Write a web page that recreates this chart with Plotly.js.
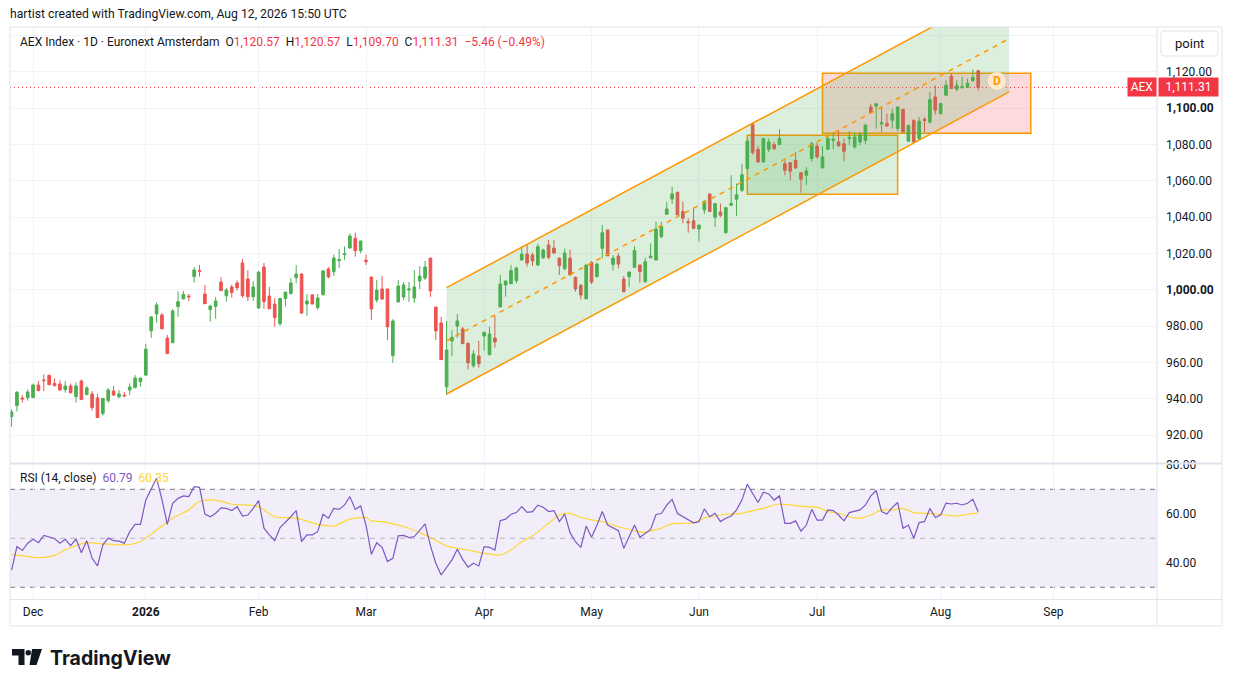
<!DOCTYPE html>
<html>
<head>
<meta charset="utf-8">
<title>AEX Index 1D</title>
<script src="https://cdn.plot.ly/plotly-3.0.1.min.js"></script>
<style>
  html, body { margin: 0; padding: 0; background: #ffffff; }
  #chart { width: 1233px; height: 687px; }
</style>
</head>
<body>
<div id="chart"></div>
<script>
// trading calendar (Euronext closed days in the window)
var firstDay = '2025-11-25';
var lastDay = '2026-08-12';
var holidays = ['2025-12-25', '2025-12-26', '2026-01-01', '2026-04-03', '2026-04-06', '2026-05-01'];

// daily OHLC, one value per trading day from firstDay to lastDay
var open = [
  930.1, 936.2, 940.4, 940.6,
  940.6, 947.5, 950.3, 952.8, 948.4, 948.1, 945.0, 947.0, 941.1, 949.7,
  942.2, 942.6, 940.4, 931.8, 938.9, 944.2, 941.1, 942.0, 944.8, 946.0, 949.4,
  953.0, 977.4, 986.6, 986.1, 973.4, 970.8, 990.7, 994.9, 996.5, 1007.2, 1010.5,
  997.6, 989.0, 990.7, 1004.2, 996.7, 1001.5, 1003.7, 1014.7, 1005.9, 996.1,
  989.9, 1012.5, 996.5, 992.1, 981.3, 995.2, 997.8, 1006.6, 1008.6, 992.1,
  997.1, 990.1, 997.3, 1011.4, 1009.9, 1016.0, 1019.3, 1022.9, 1028.3, 1021.5,
  1016.2, 1007.0, 994.3, 1000.4, 1000.4, 963.7, 993.2, 996.0, 999.8, 995.4,
  1004.8, 1006.4, 1017.4, 990.5, 981.7, 946.6, 971.8, 980.0, 978.4, 970.5,
  958.2, 963.5, 974.5, 964.2, 973.4, 990.5, 1002.6, 1003.3,
  1005.0, 1016.3, 1019.6, 1019.1, 1013.6, 1017.6, 1024.6, 1022.9, 1017.4, 1011.6,
  1017.4, 1006.8, 1002.4, 994.9,
  1014.9, 1007.2, 1022.8, 1032.9, 1013.9, 1018.5, 1005.9, 1007.2, 1012.3, 1013.6,
  1004.4, 1017.6, 1016.3, 1029.2, 1041.5, 1049.9, 1053.6, 1043.0, 1037.4, 1038.0,
  1033.4, 1043.9, 1052.7, 1039.9, 1042.8, 1031.4, 1046.5, 1049.8, 1054.7, 1066.6,
  1091.1, 1077.3, 1070.3, 1077.3, 1079.9, 1079.9, 1069.4, 1069.9, 1071.2, 1064.4,
  1063.0, 1072.2,
  1079.1, 1067.0, 1077.3, 1082.2, 1081.3, 1080.4, 1083.2, 1078.6,
  1081.3, 1082.2, 1100.6, 1101.0, 1091.2, 1091.4, 1093.3, 1088.7, 1099.3, 1081.7,
  1093.3, 1083.2, 1093.8, 1092.3, 1106.1,
  1096.9, 1107.0, 1117.5, 1110.3, 1111.2, 1111.4, 1115.1, 1120.57
];
var high = [
  934.3, 944.2, 942.0, 945.1,
  948.4, 949.7, 953.4, 953.4, 951.2, 950.1, 949.7, 948.4, 949.0, 950.6,
  947.0, 944.2, 942.6, 940.4, 945.9, 947.0, 944.8, 943.7, 948.4, 953.0, 951.4,
  970.1, 985.5, 992.9, 987.2, 975.1, 989.4, 999.1, 999.3, 997.6, 1012.5, 1013.6,
  1002.6, 991.6, 996.0, 1007.0, 1000.9, 1002.8, 1005.1, 1016.9, 1010.8, 1004.8,
  1010.3, 1014.7, 1001.5, 995.2, 995.2, 998.7, 1006.4, 1013.6, 1009.2, 997.6,
  997.6, 997.6, 1010.8, 1012.5, 1019.3, 1022.3, 1023.8, 1031.0, 1031.4, 1027.0,
  1019.3, 1007.0, 1005.3, 1007.5, 1000.4, 983.8, 1005.3, 1004.2, 1004.2, 1010.8,
  1013.0, 1015.8, 1017.4, 990.5, 985.0, 982.8, 977.8, 986.6, 979.6, 971.0,
  966.8, 971.8, 976.9, 979.6, 985.7, 1008.1, 1004.8, 1013.6,
  1012.7, 1024.0, 1025.2, 1020.4, 1025.2, 1022.6, 1027.4, 1027.4, 1017.6, 1022.6,
  1021.9, 1007.2, 1003.1, 1013.6,
  1015.8, 1014.9, 1035.6, 1032.9, 1019.1, 1020.0, 1007.5, 1009.9, 1023.9, 1013.6,
  1017.6, 1025.5, 1037.4, 1037.4, 1048.1, 1056.7, 1054.0, 1048.5, 1039.3, 1044.8,
  1035.6, 1049.4, 1053.0, 1047.4, 1047.4, 1045.2, 1063.0, 1058.4, 1069.4, 1083.2,
  1092.3, 1079.1, 1083.5, 1083.2, 1081.3, 1088.3, 1071.2, 1070.3, 1075.8, 1064.4,
  1067.6, 1081.3,
  1080.9, 1079.1, 1085.4, 1086.5, 1087.8, 1083.2, 1087.2, 1086.5,
  1086.8, 1091.4, 1102.4, 1102.4, 1100.0, 1096.9, 1099.7, 1100.6, 1099.3, 1090.5,
  1093.3, 1095.1, 1095.1, 1108.9, 1112.5,
  1103.0, 1115.3, 1119.0, 1115.3, 1117.1, 1116.2, 1121.3, 1120.57
];
var low = [
  924.6, 932.9, 937.8, 938.9,
  940.4, 944.2, 944.2, 947.5, 946.6, 944.4, 943.3, 942.8, 937.8, 939.3,
  942.0, 933.4, 929.6, 930.7, 937.8, 941.6, 940.2, 940.8, 942.0, 945.9, 946.6,
  952.6, 973.4, 981.8, 978.3, 964.8, 970.8, 985.1, 994.9, 993.8, 1003.9, 1007.2,
  992.3, 982.4, 984.0, 999.5, 993.4, 995.6, 999.5, 995.6, 993.8, 993.8,
  989.5, 989.5, 989.5, 979.6, 980.2, 990.7, 997.8, 1003.5, 986.6, 985.7,
  992.1, 989.0, 996.7, 1006.2, 1007.6, 1011.9, 1016.4, 1022.8, 1018.2, 1020.0,
  1013.6, 983.3, 992.9, 994.3, 972.3, 959.8, 993.2, 994.3, 993.2, 992.7,
  1000.4, 1005.3, 996.0, 972.3, 961.3, 942.0, 963.5, 973.6, 970.1, 956.1,
  957.1, 957.1, 966.4, 964.0, 968.1, 990.5, 996.2, 1003.3,
  1003.5, 1016.3, 1012.7, 1013.0, 1013.0, 1016.9, 1016.7, 1019.5, 1008.1, 1010.8,
  1008.1, 998.9, 994.7, 994.9,
  1003.1, 1006.6, 1017.3, 1018.6, 1010.5, 1011.8, 998.5, 1001.3, 1012.3, 1003.9,
  1004.0, 1017.3, 1016.3, 1028.3, 1041.5, 1047.2, 1041.1, 1036.5, 1031.4, 1033.2,
  1026.4, 1041.7, 1043.0, 1034.5, 1039.9, 1030.9, 1046.5, 1040.6, 1053.8, 1066.6,
  1074.4, 1069.9, 1069.9, 1075.8, 1076.7, 1079.5, 1063.0, 1060.2, 1066.6, 1053.4,
  1057.5, 1070.3,
  1072.2, 1067.0, 1077.3, 1077.3, 1079.1, 1070.7, 1079.5, 1077.7,
  1079.5, 1080.0, 1096.9, 1088.7, 1086.8, 1089.6, 1088.7, 1087.2, 1086.5, 1081.7,
  1081.0, 1082.2, 1086.8, 1091.4, 1096.4,
  1096.4, 1107.0, 1110.7, 1109.2, 1110.7, 1111.0, 1114.4, 1109.70
];
var close = [
  932.7, 943.5, 939.8, 943.7,
  947.5, 944.4, 949.9, 947.7, 947.2, 944.8, 947.0, 943.3, 947.0, 939.5,
  945.9, 935.1, 929.6, 940.2, 944.8, 942.0, 942.6, 941.6, 946.4, 951.4, 951.4,
  967.3, 985.0, 991.6, 978.5, 964.8, 988.3, 993.4, 997.3, 996.1, 1010.8, 1010.1,
  992.3, 991.0, 993.8, 999.5, 999.8, 998.4, 1001.1, 996.7, 996.1, 1001.5,
  1009.6, 993.4, 989.5, 984.6, 995.2, 998.7, 1003.7, 1008.6, 987.2, 993.8,
  992.1, 995.4, 1010.3, 1007.0, 1017.4, 1016.5, 1019.8, 1029.6, 1021.5, 1026.8,
  1015.4, 989.4, 999.8, 994.9, 979.6, 982.8, 1002.0, 1002.6, 1000.4, 1001.5,
  1007.5, 1012.5, 999.3, 977.3, 961.5, 966.8, 973.8, 982.8, 970.3, 959.8,
  964.6, 959.3, 976.5, 975.6, 971.2, 1003.1, 1004.8, 1010.5,
  1011.9, 1019.6, 1014.7, 1015.8, 1023.7, 1021.8, 1017.8, 1020.2, 1013.2, 1020.2,
  1008.1, 1000.4, 997.1, 1013.6,
  1004.2, 1014.1, 1031.4, 1018.6, 1017.4, 1014.1, 998.9, 1009.7, 1021.5, 1009.9,
  1015.4, 1018.5, 1033.4, 1034.7, 1044.4, 1052.7, 1041.1, 1039.3, 1036.9, 1033.8,
  1035.6, 1048.5, 1043.0, 1047.4, 1041.0, 1045.2, 1047.4, 1052.3, 1063.3, 1081.7,
  1075.5, 1070.3, 1083.2, 1081.3, 1077.7, 1083.2, 1065.7, 1065.2, 1067.0, 1060.8,
  1065.4, 1080.4,
  1073.1, 1073.1, 1083.2, 1082.8, 1079.1, 1076.2, 1083.9, 1084.1,
  1085.4, 1090.5, 1097.5, 1102.4, 1092.0, 1090.1, 1096.9, 1100.6, 1086.8, 1090.5,
  1081.3, 1092.7, 1093.1, 1104.6, 1098.8,
  1102.4, 1112.5, 1110.7, 1112.5, 1111.8, 1113.6, 1116.77, 1111.31
];

// RSI(14) per day
var rsi = [
  37.0, 46.6, 45.0, 48.0,
  49.6, 48.2, 51.2, 50.5, 49.9, 48.0, 49.6, 47.0, 49.7, 44.1,
  49.0, 41.8, 38.7, 47.3, 50.1, 49.0, 48.8, 48.0, 52.7, 55.7, 55.7,
  65.6, 70.4, 74.5, 65.9, 55.7, 64.3, 66.3, 67.3, 67.0, 71.1, 70.8,
  59.9, 58.8, 60.2, 62.4, 62.2, 61.3, 62.9, 59.1, 59.5, 62.2,
  65.4, 54.1, 51.4, 49.0, 54.4, 56.4, 58.8, 61.3, 48.6, 51.4,
  51.4, 52.7, 59.8, 58.2, 62.2, 61.8, 63.6, 67.0, 61.8, 63.2,
  55.4, 43.5, 48.2, 46.3, 40.5, 41.8, 51.0, 51.2, 50.3, 50.7,
  53.4, 55.9, 46.9, 39.8, 35.0, 38.2, 41.2, 45.5, 41.4, 38.2,
  39.8, 38.7, 46.6, 46.3, 45.2, 57.2, 57.8, 59.8,
  60.5, 62.9, 60.6, 60.9, 63.5, 62.7, 60.9, 61.3, 56.8, 59.9,
  52.3, 48.6, 46.3, 55.0,
  50.4, 55.3, 60.9, 55.4, 54.1, 53.1, 45.9, 50.7, 55.4, 50.4,
  52.0, 53.6, 59.7, 60.1, 63.5, 65.9, 60.1, 58.8, 57.4, 56.3,
  56.8, 62.0, 58.8, 60.2, 56.8, 58.2, 59.1, 61.6, 65.6, 72.1,
  68.3, 64.6, 68.8, 68.1, 65.6, 67.3, 56.1, 56.1, 57.1, 52.9,
  55.4, 61.8,
  57.4, 57.4, 61.6, 61.3, 59.5, 57.1, 60.5, 60.9,
  61.6, 63.6, 67.3, 69.5, 60.9, 59.9, 62.6, 64.6, 54.1, 55.4,
  50.0, 56.4, 56.8, 62.2, 58.5,
  59.5, 64.3, 64.0, 64.3, 63.6, 64.3, 65.9, 60.79
];

// RSI moving average, read at these day numbers (0 = firstDay)
var maDay = [0, 2, 5, 8, 10, 14, 17, 21, 24, 27, 30, 33, 35, 38, 41, 43, 46, 49, 53, 57,
  60, 63, 66, 67, 69, 74, 77, 81, 83, 85, 88, 91, 93, 95, 97, 100, 102, 104, 106, 108,
  110, 112, 114, 116, 118, 119, 121, 123, 125, 127, 129, 131, 133, 136, 138, 140, 142, 143, 145, 148,
  150, 152, 154, 156, 158, 160, 162, 164, 166, 168, 170, 172, 174, 176, 178, 180];
var maValue = [43.2, 42.9, 42.1, 43.0, 45.3, 48.2, 47.7, 47.3, 48.6, 53.4, 58.2, 61.6, 65.0, 65.6, 63.9, 63.6, 62.9, 58.8, 58.2, 55.7,
  55.0, 57.8, 58.4, 57.1, 56.8, 54.1, 51.4, 46.9, 45.9, 45.2, 43.9, 43.2, 45.2, 48.6, 51.0, 56.1, 59.5, 60.2, 58.5, 57.5,
  56.8, 55.4, 54.1, 53.1, 52.4, 53.0, 54.1, 55.9, 56.1, 56.4, 58.2, 59.1, 59.8, 60.2, 61.3, 62.2, 63.6, 64.0, 63.6, 62.9,
  62.7, 60.9, 60.2, 58.8, 58.2, 59.5, 61.6, 61.6, 62.2, 60.5, 60.2, 59.9, 59.5, 59.1, 59.8, 60.35];

var monthTicks = ['2025-12-01', '2026-01-02', '2026-02-02', '2026-03-02', '2026-04-01',
  '2026-05-04', '2026-06-01', '2026-07-01', '2026-08-03', '2026-09-01'];
var monthLabels = ['Dec', '<b>2026</b>', 'Feb', 'Mar', 'Apr', 'May', 'Jun', 'Jul', 'Aug', 'Sep'];
var priceTicks = [920, 940, 960, 980, 1000, 1020, 1040, 1060, 1080, 1100, 1120, 1140];
var rsiTicks = [40, 60, 80];

// drawings on the chart
var channelX = ['2026-03-23', '2026-08-19 18:00'];
var channelLow = [942.6, 1108.9];
var channelWidth = 58.5;
var greenBoxX = ['2026-06-12', '2026-07-22'];
var greenBoxY = [1052.5, 1085.0];
var redBoxX = ['2026-07-02', '2026-08-25 19:00'];
var redBoxY = [1086.1, 1119.1];
var eventX = '2026-08-17 11:00';
var eventY = 1114.9;

function tradingDays(from, to) {
  var out = [];
  var d = new Date(from + 'T00:00:00Z');
  var end = new Date(to + 'T00:00:00Z');
  while (d <= end) {
    var s = d.toISOString().slice(0, 10);
    var wd = d.getUTCDay();
    if (wd != 0 && wd != 6 && holidays.indexOf(s) < 0) out.push(s);
    d.setUTCDate(d.getUTCDate() + 1);
  }
  return out;
}
function px(x) { return (x - 10) / 1147; }
function py(y) { return (599 - y) / 572; }
function fmt(v) { return v.toLocaleString('en-US', {minimumFractionDigits: 2, maximumFractionDigits: 2}); }

var dates = tradingDays(firstDay, lastDay);
var n = close.length - 1;
var chg = close[n] - close[n - 1];
var pct = chg / close[n - 1] * 100;
var RED = '#f23645', GREEN = '#4caf50', ORANGE = '#ff9800', PURPLE = '#7e57c2', YELLOW = '#fdd835';
var INK = '#131722', FRAME = '#e0e3eb', GRID = '#f0f3fa';

var chUp = [channelLow[0] + channelWidth, channelLow[1] + channelWidth];
var chMid = [channelLow[0] + channelWidth / 2, channelLow[1] + channelWidth / 2];

var traces = [
  {type: 'scatter', mode: 'lines', x: [channelX[0], channelX[1], channelX[1], channelX[0]],
   y: [channelLow[0], channelLow[1], chUp[1], chUp[0]], fill: 'toself',
   fillcolor: 'rgba(76,175,80,0.2)', line: {width: 0}, hoverinfo: 'skip'},
  {type: 'candlestick', x: dates, open: open, high: high, low: low, close: close,
   increasing: {line: {color: GREEN, width: 1}, fillcolor: GREEN},
   decreasing: {line: {color: '#ef5350', width: 1}, fillcolor: '#ef5350'},
   whiskerwidth: 0, hoverinfo: 'skip'},
  {type: 'scatter', mode: 'lines', x: channelX, y: channelLow, line: {color: ORANGE, width: 1.5}},
  {type: 'scatter', mode: 'lines', x: channelX, y: chUp, line: {color: ORANGE, width: 1.5}},
  {type: 'scatter', mode: 'lines', x: channelX, y: chMid, line: {color: ORANGE, width: 1.5, dash: '5px,5px'}},
  {type: 'scatter', mode: 'lines', x: maDay.map(function(i) { return dates[i]; }), y: maValue,
   yaxis: 'y2', line: {color: YELLOW, width: 1.2, shape: 'spline', smoothing: 0.8}},
  {type: 'scatter', mode: 'lines', x: dates, y: rsi, yaxis: 'y2', line: {color: PURPLE, width: 1.2}}
];

var priceText = priceTicks.map(function(v) {
  if (v == 1140) return '';
  return (v % 100 == 0) ? '<b>' + fmt(v) + '</b>' : fmt(v);
});

var shapes = [
  {type: 'rect', xref: 'x', yref: 'y', x0: greenBoxX[0], x1: greenBoxX[1], y0: greenBoxY[0], y1: greenBoxY[1],
   fillcolor: 'rgba(76,175,80,0.2)', line: {color: ORANGE, width: 1.5}, layer: 'between'},
  {type: 'rect', xref: 'x', yref: 'y', x0: redBoxX[0], x1: redBoxX[1], y0: redBoxY[0], y1: redBoxY[1],
   fillcolor: 'rgba(242,54,69,0.18)', line: {color: ORANGE, width: 1.5}, layer: 'between'},
  {type: 'line', xref: 'paper', yref: 'y', x0: 0, x1: 1, y0: close[n], y1: close[n],
   line: {color: RED, width: 1, dash: '1px,3px'}, layer: 'between'},
  {type: 'circle', xref: 'x', yref: 'y', xsizemode: 'pixel', ysizemode: 'pixel',
   xanchor: eventX, yanchor: eventY, x0: -9, x1: 9, y0: -9, y1: 9,
   fillcolor: '#ffe9cc', line: {width: 0}, layer: 'above'},
  // RSI band and levels
  {type: 'rect', xref: 'paper', yref: 'y2', x0: 0, x1: 1, y0: 30, y1: 70,
   fillcolor: 'rgba(126,87,194,0.1)', line: {width: 0}, layer: 'between'},
  {type: 'line', xref: 'paper', yref: 'y2', x0: 0, x1: 1, y0: 70, y1: 70, line: {color: '#787b86', width: 1, dash: '5px,5px'}, layer: 'between'},
  {type: 'line', xref: 'paper', yref: 'y2', x0: 0, x1: 1, y0: 50, y1: 50, line: {color: 'rgba(120,123,134,0.5)', width: 1, dash: '5px,5px'}, layer: 'between'},
  {type: 'line', xref: 'paper', yref: 'y2', x0: 0, x1: 1, y0: 30, y1: 30, line: {color: '#787b86', width: 1, dash: '5px,5px'}, layer: 'between'},
  // frame
  {type: 'rect', xref: 'paper', yref: 'paper', x0: px(10), x1: px(1222), y0: py(626), y1: py(27), line: {color: FRAME, width: 1}},
  {type: 'line', xref: 'paper', yref: 'paper', x0: px(1157), x1: px(1157), y0: py(626), y1: py(27), line: {color: FRAME, width: 1}},
  {type: 'line', xref: 'paper', yref: 'paper', x0: px(10), x1: px(1222), y0: py(599.5), y1: py(599.5), line: {color: FRAME, width: 1}},
  {type: 'line', xref: 'paper', yref: 'paper', x0: px(10), x1: px(1222), y0: py(463.5), y1: py(463.5), line: {color: FRAME, width: 2}},
  {type: 'path', xref: 'paper', yref: 'paper', fillcolor: '#ffffff', line: {color: FRAME, width: 1},
   path: 'M' + px(1164) + ',' + py(31) + ' L' + px(1215) + ',' + py(31) + ' Q' + px(1218) + ',' + py(31) + ' ' + px(1218) + ',' + py(34) +
         ' L' + px(1218) + ',' + py(53) + ' Q' + px(1218) + ',' + py(56) + ' ' + px(1215) + ',' + py(56) +
         ' L' + px(1164) + ',' + py(56) + ' Q' + px(1161) + ',' + py(56) + ' ' + px(1161) + ',' + py(53) +
         ' L' + px(1161) + ',' + py(34) + ' Q' + px(1161) + ',' + py(31) + ' ' + px(1164) + ',' + py(31) + ' Z'},
  // TradingView logo mark
  {type: 'path', xref: 'paper', yref: 'paper', fillcolor: INK, line: {width: 0},
   path: 'M' + px(12) + ',' + py(649) + ' L' + px(24.5) + ',' + py(649) + ' L' + px(24.5) + ',' + py(665) +
         ' L' + px(18.5) + ',' + py(665) + ' L' + px(18.5) + ',' + py(655.5) + ' L' + px(12) + ',' + py(655.5) + ' Z'},
  {type: 'circle', xref: 'paper', yref: 'paper', fillcolor: INK, line: {width: 0},
   x0: px(25.5), x1: px(31), y0: py(655.5), y1: py(650)},
  {type: 'path', xref: 'paper', yref: 'paper', fillcolor: INK, line: {width: 0},
   path: 'M' + px(32) + ',' + py(649) + ' L' + px(42) + ',' + py(649) + ' L' + px(36.5) + ',' + py(665) +
         ' L' + px(29.5) + ',' + py(665) + ' Z'}
];

var legendText = 'AEX Index · 1D · Euronext Amsterdam&nbsp;&nbsp;' +
  'O<span style="color:' + RED + '">' + fmt(open[n]) + '</span>&nbsp;&nbsp;' +
  'H<span style="color:' + RED + '">' + fmt(high[n]) + '</span>&nbsp;&nbsp;' +
  'L<span style="color:' + RED + '">' + fmt(low[n]) + '</span>&nbsp;&nbsp;' +
  'C<span style="color:' + RED + '">' + fmt(close[n]) + '</span>&nbsp;&nbsp;' +
  '<span style="color:' + RED + '">−' + Math.abs(chg).toFixed(2) + ' (−' + Math.abs(pct).toFixed(2) + '%)</span>';
var rsiText = 'RSI (14, close)&nbsp;&nbsp;<span style="color:' + PURPLE + '">' + rsi[n].toFixed(2) + '</span>&nbsp;&nbsp;' +
  '<span style="color:' + YELLOW + '">' + maValue[maValue.length - 1].toFixed(2) + '</span>';

var annotations = [
  {xref: 'paper', yref: 'paper', x: px(8), y: py(14), xanchor: 'left', yanchor: 'middle', showarrow: false,
   text: 'hartist created with TradingView.com, Aug 12, 2026 15:50 UTC', font: {size: 12.2, color: INK}},
  {xref: 'paper', yref: 'paper', x: px(18), y: py(42), xanchor: 'left', yanchor: 'middle', showarrow: false,
   text: legendText, font: {size: 12, color: INK}},
  {xref: 'paper', yref: 'paper', x: px(18), y: py(478), xanchor: 'left', yanchor: 'middle', showarrow: false,
   text: rsiText, font: {size: 12, color: INK}},
  {xref: 'paper', yref: 'paper', x: px(1189.5), y: py(43.5), xanchor: 'center', yanchor: 'middle', showarrow: false,
   text: 'point', font: {size: 13, color: INK}},
  {xref: 'paper', yref: 'y', x: px(1157), y: close[n], xanchor: 'right', yanchor: 'middle', showarrow: false,
   text: 'AEX', bgcolor: RED, borderpad: 2, width: 24, font: {size: 12, color: '#ffffff'}},
  {xref: 'paper', yref: 'y', x: px(1158), y: close[n], xanchor: 'left', yanchor: 'middle', showarrow: false,
   text: fmt(close[n]), bgcolor: RED, borderpad: 2, width: 55, font: {size: 12, color: '#ffffff'}},
  {xref: 'x', yref: 'y', x: eventX, y: eventY, showarrow: false, xanchor: 'center', yanchor: 'middle',
   text: '<b>D</b>', font: {size: 12, color: ORANGE}},
  {xref: 'paper', yref: 'paper', x: px(48), y: py(657.5), xanchor: 'left', yanchor: 'middle', showarrow: false,
   text: '<b>TradingView</b>', font: {family: 'Inter, Roboto, sans-serif', size: 19.5, color: INK}}
];

var layout = {
  width: 1233, height: 687,
  margin: {l: 10, r: 76, t: 27, b: 88},
  paper_bgcolor: '#ffffff', plot_bgcolor: '#ffffff',
  font: {family: 'Roboto, sans-serif', color: INK, size: 12},
  showlegend: false,
  xaxis: {type: 'date', anchor: 'y2', range: ['2025-11-24 17:00', '2026-09-28 07:00'],
    rangebreaks: [{bounds: ['sat', 'mon']}, {values: holidays}],
    rangeslider: {visible: false}, tickvals: monthTicks, ticktext: monthLabels,
    ticks: '', showgrid: true, gridcolor: GRID, zeroline: false, showline: false,
    tickfont: {size: 12, color: INK}, ticklabelstandoff: 4, fixedrange: true},
  yaxis: {domain: [py(463), 1], range: [904.6, 1144.6], side: 'right',
    tickvals: priceTicks, ticktext: priceText, ticks: '', ticklabelstandoff: 8,
    showgrid: true, gridcolor: GRID, zeroline: false, showline: false,
    tickfont: {size: 12, color: INK}, fixedrange: true},
  yaxis2: {domain: [0, py(464)], range: [25.2, 80.33], side: 'right',
    tickvals: rsiTicks, ticktext: rsiTicks.map(function(v) { return v.toFixed(2); }), ticks: '', ticklabelstandoff: 8,
    showgrid: true, gridcolor: GRID, zeroline: false, showline: false,
    tickfont: {size: 12, color: INK}, fixedrange: true},
  shapes: shapes,
  annotations: annotations
};

Plotly.newPlot('chart', traces, layout, {displayModeBar: false, staticPlot: true});
</script>
</body>
</html>
